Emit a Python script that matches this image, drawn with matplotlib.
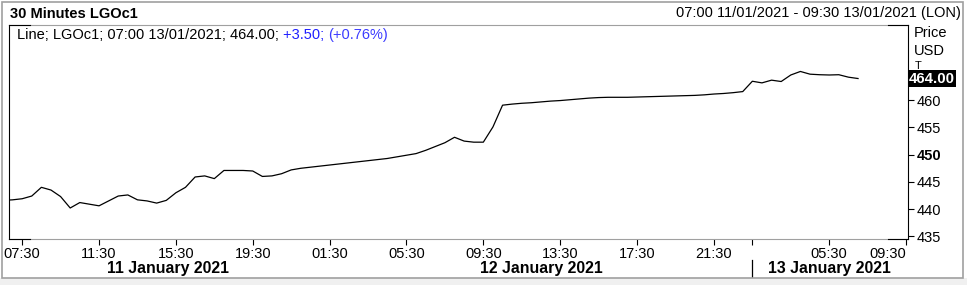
import matplotlib
matplotlib.use("Agg")
import matplotlib.pyplot as plt
from matplotlib.lines import Line2D
from matplotlib.patches import Rectangle
from matplotlib.transforms import blended_transform_factory

W, H = 967, 285

# 30 minute closes, trading hours only (01:00-23:00 LON), 06:30 11/01 -> 07:00 13/01
prices = [
    441.6, 441.7, 441.9, 442.4, 444.0, 443.5, 442.3, 440.2, 441.2, 440.9,
    440.6, 441.5, 442.4, 442.6, 441.7, 441.5, 441.1, 441.6, 443.0, 444.0,
    445.9, 446.1, 445.6, 447.1, 447.1, 447.1, 447.0, 446.0, 446.1, 446.5,
    447.2, 447.5, 447.7, 447.9, 448.1, 448.3, 448.5, 448.7, 448.9, 449.1,
    449.3, 449.6, 449.9, 450.2, 450.8, 451.5, 452.2, 453.2, 452.5, 452.3,
    452.3, 455.1, 459.1, 459.3, 459.45, 459.55, 459.7, 459.85, 459.95, 460.1,
    460.25, 460.4, 460.5, 460.55, 460.55, 460.55, 460.6, 460.65, 460.7, 460.75,
    460.8, 460.85, 460.9, 461.0, 461.15, 461.25, 461.4, 461.6, 463.5, 463.2,
    463.7, 463.45, 464.65, 465.3, 464.8, 464.7, 464.65, 464.7, 464.25, 464.0,
]
first_bar = -1  # bar index of prices[0]; bar 0 = 07:00 11/01

x_tick_pos = [1, 9, 17, 25, 33, 41, 49, 57, 65, 73, 77, 85, 93]
x_tick_labels = ["07:30", "11:30", "15:30", "19:30", "01:30", "05:30", "09:30",
                 "13:30", "17:30", "21:30", "", "05:30", "09:30"]
day_labels = ["11 January 2021", "12 January 2021", "13 January 2021"]
day_centres = [16.2, 55.0, 85.0]
day_break = 77
y_ticks = [435, 440, 445, 450, 455, 460]
last_price = 464.00
change = 3.50
change_pct = 0.76

plt.rcParams["font.family"] = ["Liberation Sans", "DejaVu Sans"]
FS = 10.5


def fx(px):
    return px / W


def fy(py):
    return 1 - py / H


fig = plt.figure(figsize=(W / 100, H / 100), dpi=100)
fig.patch.set_facecolor("white")

# outer frame and bottom band
fig.add_artist(Rectangle((0, 0), 1, fy(278), transform=fig.transFigure,
                         facecolor="#f0f0f0", edgecolor="none"))
fig.add_artist(Rectangle((fx(1.5), fy(278)), fx(961), fy(1.5) - fy(278),
                         transform=fig.transFigure, facecolor="none",
                         edgecolor="#a0a0a0", linewidth=1.2))

ax = fig.add_axes([fx(9), fy(239), fx(899), fy(25) - fy(239)])
xs = [first_bar + i for i in range(len(prices))]
ax.plot(xs, prices, color="black", linewidth=0.9)
ax.set_xlim(-0.37, 93.2)
ax.set_ylim(434.5, 473.84)

for side in ("top", "bottom"):
    ax.spines[side].set_color("#a0a0a0")
    ax.spines[side].set_linewidth(0.8)
for side in ("left", "right"):
    ax.spines[side].set_color("black")
    ax.spines[side].set_linewidth(0.8)

# black corner accents on the frame
for x0, x1, y in [(9, 30, 25), (9, 30, 239), (888, 908, 25), (888, 908, 239)]:
    fig.add_artist(Line2D([fx(x0), fx(x1)], [fy(y), fy(y)], color="black",
                          linewidth=0.8, transform=fig.transFigure))

ax.yaxis.tick_right()
ax.set_yticks(y_ticks, [str(v) for v in y_ticks])
ax.tick_params(axis="y", direction="out", length=4, width=0.8, pad=2,
               labelsize=FS, colors="black")
for lab, v in zip(ax.get_yticklabels(), y_ticks):
    if v == 450:
        lab.set_fontweight("bold")

ax.set_xticks(x_tick_pos, x_tick_labels)
ax.tick_params(axis="x", direction="out", length=4, width=0.8, pad=1.5,
               labelsize=FS, colors="black")
ax.get_xticklabels()[-1].set_horizontalalignment("right")

# day labels and separator under the time axis
bt = blended_transform_factory(ax.transData, fig.transFigure)
for lab, c in zip(day_labels, day_centres):
    ax.text(c, fy(268.5), lab, transform=bt, ha="center", va="center",
            fontsize=11.4, fontweight="bold", clip_on=False)
ax.add_line(Line2D([day_break, day_break], [fy(260), fy(278)], transform=bt,
                   color="black", linewidth=0.9, clip_on=False))

# header
fig.text(fx(10), fy(13.5), "30 Minutes LGOc1", fontsize=FS, fontweight="bold",
         ha="left", va="center")
fig.text(fx(961), fy(13.5), "07:00 11/01/2021 - 09:30 13/01/2021 (LON)",
         fontsize=FS, ha="right", va="center")

# axis unit labels
fig.text(fx(914), fy(33), "Price", fontsize=FS, ha="left", va="center")
fig.text(fx(914), fy(51), "USD", fontsize=FS, ha="left", va="center")
fig.text(fx(915), fy(66), "T", fontsize=8, ha="left", va="center")

ax.annotate(f"{last_price:.2f}", xy=(1, last_price),
            xycoords=("axes fraction", "data"), xytext=(1, 0),
            textcoords="offset pixels", ha="left", va="center",
            fontsize=FS + 0.3, fontweight="bold", color="white",
            bbox=dict(boxstyle="square,pad=0.08", facecolor="black",
                      edgecolor="none"), annotation_clip=False, zorder=5)

# legend line with coloured change
parts = [
    (f"Line; LGOc1; 07:00 13/01/2021; {last_price:.2f}; ", "black"),
    (f"+{change:.2f}; ", "#1f1fff"),
    (f"(+{change_pct:.2f}%)", "#3c3cff"),
]
fig.canvas.draw()
renderer = fig.canvas.get_renderer()
x_px = 17
for txt, col in parts:
    t = fig.text(fx(x_px), fy(35), txt, fontsize=FS, color=col,
                 ha="left", va="center")
    x_px = t.get_window_extent(renderer).x1

fig.savefig("out.png", dpi=100)
